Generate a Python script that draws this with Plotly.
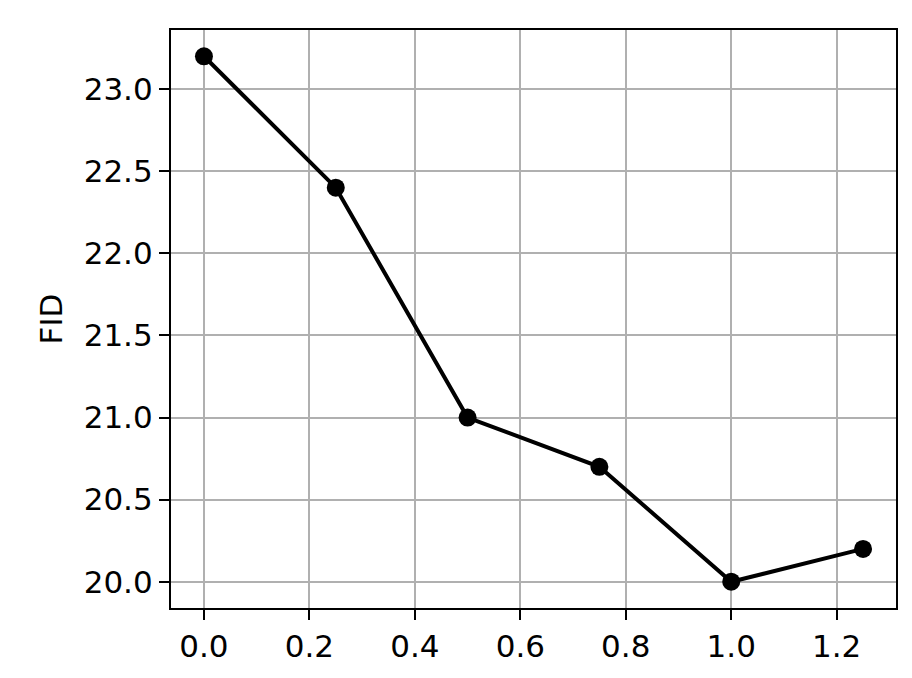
import plotly.graph_objects as go

# values
weights = [0.0, 0.25, 0.5, 0.75, 1.0, 1.25]
fid = [23.2, 22.4, 21.0, 20.7, 20.0, 20.2]

font = dict(family="DejaVu Sans", size=31, color="black")

fig = go.Figure(
    go.Scatter(
        x=weights,
        y=fid,
        mode="lines+markers",
        line=dict(color="black", width=4),
        marker=dict(color="black", size=18),
        showlegend=False,
    )
)

axis_style = dict(
    showline=True,
    mirror=True,
    linecolor="black",
    linewidth=2.2,
    ticks="outside",
    ticklen=10,
    tickwidth=2.2,
    tickcolor="black",
    showgrid=True,
    gridcolor="#b0b0b0",
    gridwidth=2,
    zeroline=False,
    tickfont=font,
    tickformat=".1f",
)

fig.update_xaxes(range=[-0.0625, 1.3125], dtick=0.2, tick0=0, **axis_style)
fig.update_yaxes(
    range=[19.84, 23.36], dtick=0.5, tick0=20,
    title=dict(text="FID", font=font, standoff=12),
    **axis_style,
)

fig.update_layout(
    width=912,
    height=678,
    margin=dict(l=163, r=24, t=22, b=78),
    plot_bgcolor="white",
    paper_bgcolor="white",
    font=font,
)

fig.write_html("out.html")
